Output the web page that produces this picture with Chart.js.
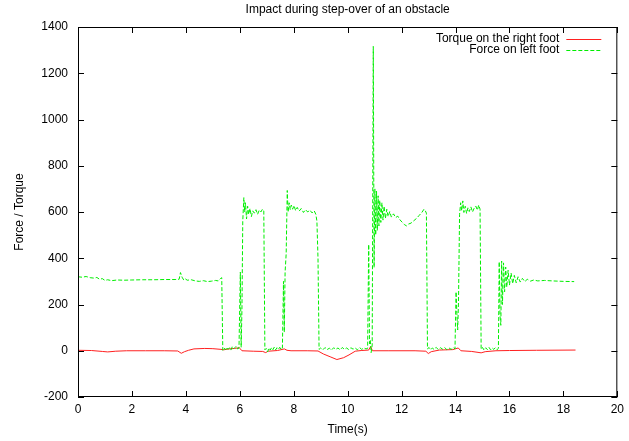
<!DOCTYPE html>
<html>
<head>
<meta charset="utf-8">
<title>Impact during step-over of an obstacle</title>
<script src="https://cdn.jsdelivr.net/npm/chart.js@4.4.1/dist/chart.umd.min.js"></script>
<style>
  body { margin: 0; background: #fff; }
  canvas { display: block; }
</style>
</head>
<body>
<canvas id="impactChart" width="629" height="441"></canvas>
<script>
// Values
const titleText = "Impact during step-over of an obstacle";
const xTitle = "Time(s)";
const yTitle = "Force / Torque";
const seriesNames = ["Torque on the right foot", "Force on left foot"];
const xTicks = [0, 2, 4, 6, 8, 10, 12, 14, 16, 18, 20];
const yTicks = [-200, 0, 200, 400, 600, 800, 1000, 1200, 1400];

// Torque on the right foot
const torqueTime = [0, 0.5, 0.9, 1.1, 1.4, 1.8, 2.5, 3.2, 3.7, 3.83, 3.95, 4.1, 4.3, 4.7, 5.0, 5.3, 5.4, 5.6, 5.8, 5.98,
  6.08, 6.5, 6.85, 6.96, 7.05, 7.4, 7.65, 7.75, 7.9, 8.5, 8.9, 9.1, 9.35, 9.6, 9.85, 10.05, 10.28, 10.5, 10.78, 10.85,
  10.92, 11.5, 12.5, 12.9, 12.99, 13.1, 13.4, 13.9, 14.1, 14.2, 14.6, 14.95, 15.1, 15.5, 16, 17, 18.45];
const torqueRight = [2, 1, -3, -5, -2, 0, 0, 0, -1, -11, -4, 2, 8, 10, 9, 6, 4, 8, 10, 13,
  0, -2, -3, -8, -2, 1, 8, 2, 0, 0, -1, -14, -26, -38, -30, -18, -2, 1, 3, 18,
  0, 0, 0, -2, -12, -4, 3, 5, 12, 0, -3, -9, -4, 0, 1, 2, 3];

// Force on left foot
const forceTime = [0, 0.15, 0.3, 0.45, 0.6, 0.7, 0.8, 0.9, 1.0, 1.1, 1.25, 1.45, 1.7, 2.0, 2.4, 2.8, 3.2, 3.6, 3.75, 3.8,
  3.86, 3.92, 3.98, 4.05, 4.2, 4.35, 4.5, 4.65, 4.8, 4.95, 5.1, 5.2, 5.28, 5.33, 5.37, 5.42, 5.47, 5.52, 5.57, 5.62,
  5.67, 5.72, 5.77, 5.82, 5.87, 5.92, 5.97, 6.02, 6.05, 6.08, 6.11, 6.15, 6.18, 6.21, 6.25, 6.29, 6.33, 6.38, 6.43, 6.48,
  6.54, 6.6, 6.66, 6.72, 6.78, 6.84, 6.89, 6.93, 6.98, 7.03, 7.08, 7.13, 7.18, 7.23, 7.28, 7.33, 7.38, 7.43, 7.48, 7.53,
  7.58, 7.62, 7.65, 7.68, 7.72, 7.76, 7.79, 7.83, 7.87, 7.91, 7.96, 8.01, 8.07, 8.13, 8.2, 8.28, 8.36, 8.44, 8.52, 8.6,
  8.68, 8.76, 8.82, 8.86, 8.9, 8.94, 9.0, 9.08, 9.16, 9.24, 9.32, 9.4, 9.48, 9.56, 9.64, 9.72, 9.8, 9.88, 9.96, 10.04,
  10.12, 10.2, 10.28, 10.36, 10.44, 10.52, 10.6, 10.68, 10.74, 10.78, 10.81, 10.84, 10.87, 10.91, 10.95, 10.98, 11.01, 11.04, 11.07, 11.1,
  11.13, 11.16, 11.19, 11.23, 11.27, 11.31, 11.35, 11.4, 11.45, 11.5, 11.56, 11.62, 11.7, 11.78, 11.86, 11.94, 12.02, 12.1, 12.18, 12.26,
  12.35, 12.45, 12.55, 12.65, 12.75, 12.83, 12.88, 12.92, 12.96, 13.02, 13.08, 13.14, 13.2, 13.28, 13.36, 13.44, 13.52, 13.6, 13.68, 13.76,
  13.84, 13.92, 13.98, 14.02, 14.05, 14.08, 14.11, 14.15, 14.19, 14.23, 14.27, 14.31, 14.36, 14.41, 14.46, 14.51, 14.57, 14.63, 14.69, 14.75,
  14.81, 14.86, 14.91, 14.95, 15.0, 15.06, 15.12, 15.18, 15.24, 15.3, 15.36, 15.42, 15.48, 15.54, 15.59, 15.62, 15.65, 15.68, 15.71, 15.74,
  15.78, 15.82, 15.86, 15.9, 15.95, 16.0, 16.06, 16.12, 16.18, 16.25, 16.32, 16.4, 16.48, 16.57, 16.66, 16.78, 16.9, 17.05, 17.3, 17.6,
  18.0, 18.4];
const forceLeft = [320, 318, 321, 316, 314, 317, 309, 312, 304, 307, 303, 306, 305, 306, 307, 307, 308, 308, 309, 338,
  318, 306, 311, 305, 307, 302, 300, 303, 299, 301, 304, 302, 312, 316, 2, 12, 4, 15, 6, 13,
  3, 17, 8, 14, 20, 8, 12, 340, 15, 180, 560, 662, 600, 640, 570, 625, 590, 615, 580, 605,
  595, 610, 590, 608, 600, 612, 605, 4, 10, -5, 12, 3, 14, 5, 16, 4, 13, 6, 15, 5,
  12, 300, 80, 340, 420, 693, 600, 640, 610, 630, 612, 628, 606, 620, 604, 615, 598, 610, 600, 608,
  596, 605, 590, 560, 400, 6, 12, 4, 14, 5, 11, 3, 13, 6, 12, 4, 14, 6, 12, 5,
  13, 7, 12, 4, 14, 6, 12, 8, 10, 460, 30, 45, -8, 25, 1316, 360, 700, 500, 690, 520,
  670, 540, 650, 555, 640, 565, 625, 572, 612, 580, 602, 578, 592, 576, 582, 566, 556, 546, 540, 548,
  552, 562, 572, 585, 598, 612, 605, 595, 8, 14, 4, 12, 6, 15, 5, 13, 7, 14, 4, 12,
  6, 14, 8, 255, 160, 90, 210, 590, 640, 605, 648, 598, 625, 594, 618, 602, 622, 600, 616, 626,
  608, 630, 612, 6, 14, 3, 13, 5, 15, 4, 12, 6, 14, 5, 10, 385, 150, 110, 388, 200,
  380, 255, 362, 275, 348, 284, 336, 290, 326, 294, 320, 297, 313, 299, 309, 301, 306, 302, 304, 302,
  300, 299];

const fontFamily = '"Liberation Sans", Arial, Helvetica, sans-serif';
const torqueColor = "#ff2020";
const forceColor = "#00ee00";

// Frame, inward ticks, title and legend drawn gnuplot style
const gnuplotFrame = {
  id: "gnuplotFrame",
  afterDraw(chart) {
    const { ctx, chartArea: a, scales } = chart;
    const x = scales.x, y = scales.y;
    const tick = 6;
    ctx.save();
    ctx.strokeStyle = "#000";
    ctx.lineWidth = 1;
    ctx.setLineDash([]);
    ctx.strokeRect(a.left + 0.5, a.top + 0.5, a.right - a.left - 1, a.bottom - a.top - 1);
    ctx.beginPath();
    xTicks.forEach(function (v) {
      const px = Math.round(x.getPixelForValue(v)) + 0.5;
      ctx.moveTo(px, a.bottom);
      ctx.lineTo(px, a.bottom - tick);
      ctx.moveTo(px, a.top);
      ctx.lineTo(px, a.top + tick);
    });
    yTicks.forEach(function (v) {
      const py = Math.round(y.getPixelForValue(v)) + 0.5;
      ctx.moveTo(a.left, py);
      ctx.lineTo(a.left + tick, py);
      ctx.moveTo(a.right, py);
      ctx.lineTo(a.right - tick, py);
    });
    ctx.stroke();

    // title
    ctx.fillStyle = "#000";
    ctx.font = "12px " + fontFamily;
    ctx.textAlign = "center";
    ctx.textBaseline = "middle";
    ctx.fillText(titleText, (a.left + a.right) / 2, 10);

    // legend, text left of the sample line
    const colors = [torqueColor, forceColor];
    const dashes = [[], [4, 2]];
    ctx.textAlign = "right";
    seriesNames.forEach(function (name, i) {
      const ry = 38.5 + i * 11.5;
      ctx.fillStyle = "#000";
      ctx.fillText(name, a.right - 58, ry);
      ctx.beginPath();
      ctx.setLineDash(dashes[i]);
      ctx.strokeStyle = colors[i];
      ctx.moveTo(a.right - 51, Math.round(ry) + 0.5);
      ctx.lineTo(a.right - 16, Math.round(ry) + 0.5);
      ctx.stroke();
    });
    ctx.restore();
  }
};

const ctx = document.getElementById("impactChart").getContext("2d");
const impactChart = new Chart(ctx, {
  type: "line",
  data: {
    datasets: [
      {
        label: seriesNames[0],
        data: torqueTime.map((t, i) => ({ x: t, y: torqueRight[i] })),
        borderColor: torqueColor,
        borderWidth: 1,
        pointRadius: 0,
        tension: 0,
        order: 2
      },
      {
        label: seriesNames[1],
        data: forceTime.map((t, i) => ({ x: t, y: forceLeft[i] })),
        borderColor: forceColor,
        borderWidth: 1,
        borderDash: [4, 2],
        pointRadius: 0,
        tension: 0,
        order: 1
      }
    ]
  },
  options: {
    responsive: false,
    animation: false,
    layout: {
      padding: { top: 27, right: 9, left: 0, bottom: 0 }
    },
    plugins: {
      legend: { display: false },
      title: { display: false },
      tooltip: { enabled: false }
    },
    scales: {
      x: {
        type: "linear",
        min: 0,
        max: 20,
        afterFit: function (scale) { scale.height = 44; },
        afterBuildTicks: function (scale) { scale.ticks = xTicks.map(v => ({ value: v })); },
        ticks: {
          color: "#000",
          padding: 5,
          maxRotation: 0,
          autoSkip: false,
          font: { family: fontFamily, size: 12 },
          callback: function (value) { return String(value); }
        },
        grid: { display: false, drawTicks: false },
        border: { display: false },
        title: {
          display: true,
          text: xTitle,
          color: "#000",
          padding: { top: 0, bottom: 4 },
          font: { family: fontFamily, size: 12 }
        }
      },
      y: {
        type: "linear",
        min: -200,
        max: 1400,
        afterFit: function (scale) { scale.width = 78; },
        afterBuildTicks: function (scale) { scale.ticks = yTicks.map(v => ({ value: v })); },
        ticks: {
          color: "#000",
          padding: 10,
          autoSkip: false,
          font: { family: fontFamily, size: 12 },
          callback: function (value) { return String(value); }
        },
        grid: { display: false, drawTicks: false },
        border: { display: false },
        title: {
          display: true,
          text: yTitle,
          color: "#000",
          padding: { top: 12, bottom: 0 },
          font: { family: fontFamily, size: 12 }
        }
      }
    }
  },
  plugins: [gnuplotFrame]
});
</script>
</body>
</html>
